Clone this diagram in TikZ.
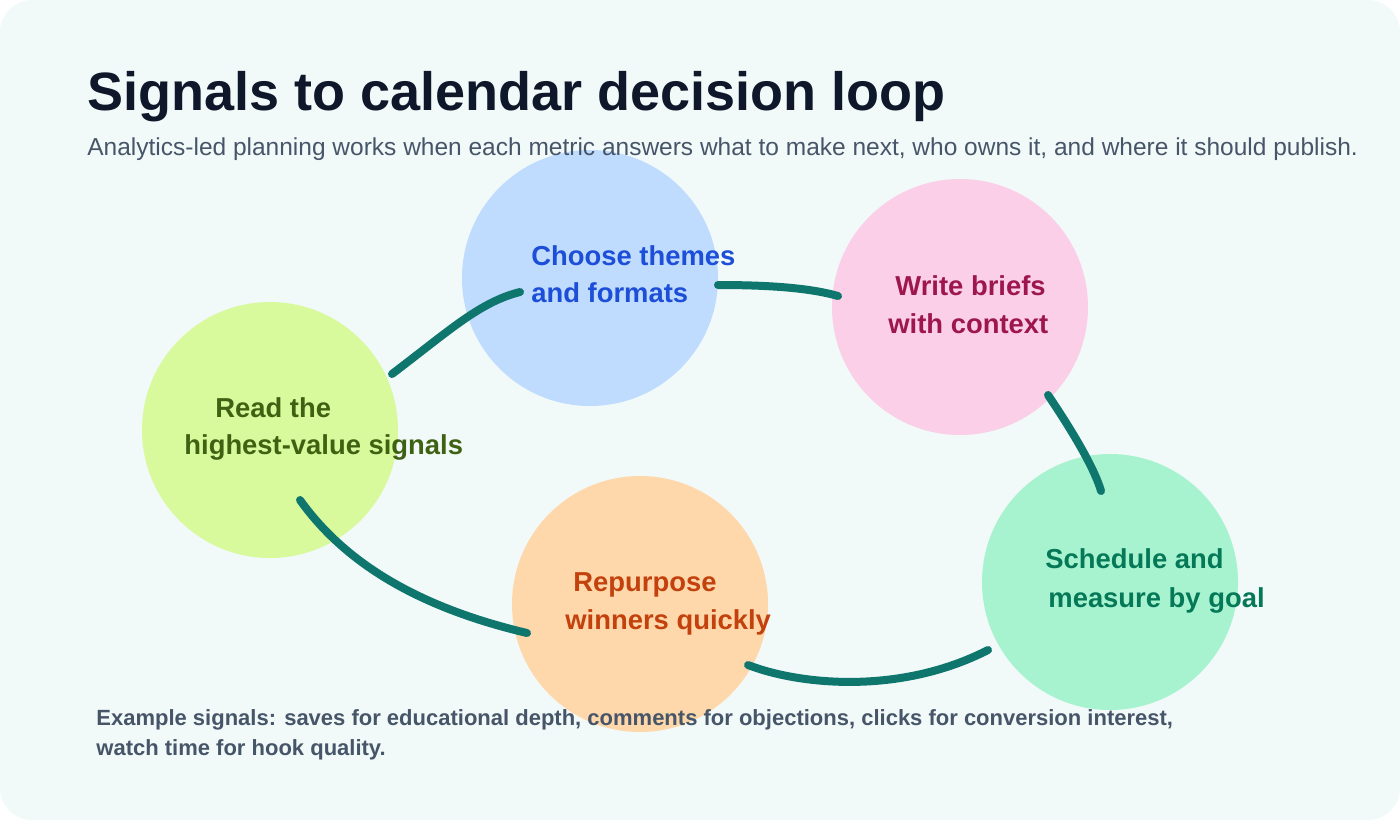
\documentclass[tikz,border=0pt]{standalone}
\usepackage{fontspec}
\setmainfont{Liberation Sans}
\definecolor{bgc}{HTML}{F1FAF9}
\definecolor{titlec}{HTML}{0F172A}
\definecolor{subc}{HTML}{475569}
\definecolor{linec}{HTML}{0F766E}
\definecolor{greenf}{HTML}{D9F99D}\definecolor{greent}{HTML}{3F6212}
\definecolor{bluef}{HTML}{BFDBFE}\definecolor{bluet}{HTML}{1D4ED8}
\definecolor{pinkf}{HTML}{FBCFE8}\definecolor{pinkt}{HTML}{9D174D}
\definecolor{mintf}{HTML}{A7F3D0}\definecolor{mintt}{HTML}{047857}
\definecolor{orangef}{HTML}{FED7AA}\definecolor{oranget}{HTML}{C2410C}
\tikzset{
  blob/.style={circle, inner sep=0pt, minimum size=128pt, draw=none},
  lab/.style={anchor=base west, inner sep=0pt, font=\fontsize{13.7}{16}\selectfont\bfseries},
  link/.style={draw=linec, line width=4pt, line cap=round},
  foottext/.style={anchor=base west, inner sep=0pt, text=subc, font=\fontsize{11}{15}\selectfont\bfseries},
}
\begin{document}
\begin{tikzpicture}[x=0.5pt, y=-0.5pt]
\useasboundingbox (0,0) rectangle (1400,820);
\fill[bgc, rounded corners=16pt] (0,0) rectangle (1400,820);

\node[blob, fill=greenf]  (g) at (270,430) {};
\node[blob, fill=bluef]   (b) at (590,278) {};
\node[blob, fill=pinkf]   (p) at (960,307) {};
\node[blob, fill=mintf]   (m) at (1110,582) {};
\node[blob, fill=orangef] (o) at (640,604) {};

\node[anchor=base west, inner sep=0pt, text=titlec, font=\fontsize{27}{32}\selectfont\bfseries] (title) at (87,110) {Signals to calendar decision loop};
\node[anchor=base west, inner sep=0pt, text=subc, font=\fontsize{12.25}{14}\selectfont] (sub) at (87,155) {Analytics-led planning works when each metric answers what to make next, who owns it, and where it should publish.};

\node[lab, text=greent] (g1) at (215,417) {Read the};
\node[lab, text=greent] (g2) at (184,454) {highest-value signals};
\node[lab, text=bluet] (b1) at (531,265) {Choose themes};
\node[lab, text=bluet] (b2) at (531,302) {and formats};
\node[lab, text=pinkt] (p1) at (895,295) {Write briefs};
\node[lab, text=pinkt] (p2) at (888,333) {with context};
\node[lab, text=mintt] (m1) at (1045,568) {Schedule and};
\node[lab, text=mintt] (m2) at (1048,607) {measure by goal};
\node[lab, text=oranget] (o1) at (573,591) {Repurpose};
\node[lab, text=oranget] (o2) at (565,629) {winners quickly};

\coordinate (a1) at (392,374); \coordinate (a2) at (520,292);
\coordinate (b3) at (718,285); \coordinate (b4) at (838,296);
\coordinate (c1) at (1048,395); \coordinate (c2) at (1101,491);
\coordinate (d1) at (988,650); \coordinate (d2) at (748,665);
\coordinate (e1) at (300,500); \coordinate (e2) at (527,633);

\draw[link] (a1) .. controls (450,330) and (480,302) .. (a2);
\draw[link] (b3) .. controls (770,285) and (810,288) .. (b4);
\draw[link] (c1) .. controls (1075,435) and (1095,470) .. (c2);
\draw[link] (d1) .. controls (900,695) and (800,685) .. (d2);
\draw[link] (e1) .. controls (350,570) and (430,610) .. (e2);

\node[foottext] (foot1) at (96,725) {Example signals: saves for educational depth, comments for objections, clicks for conversion interest,};
\node[foottext] (foot2) at (96,755) {watch time for hook quality.};
\end{tikzpicture}
\end{document}
